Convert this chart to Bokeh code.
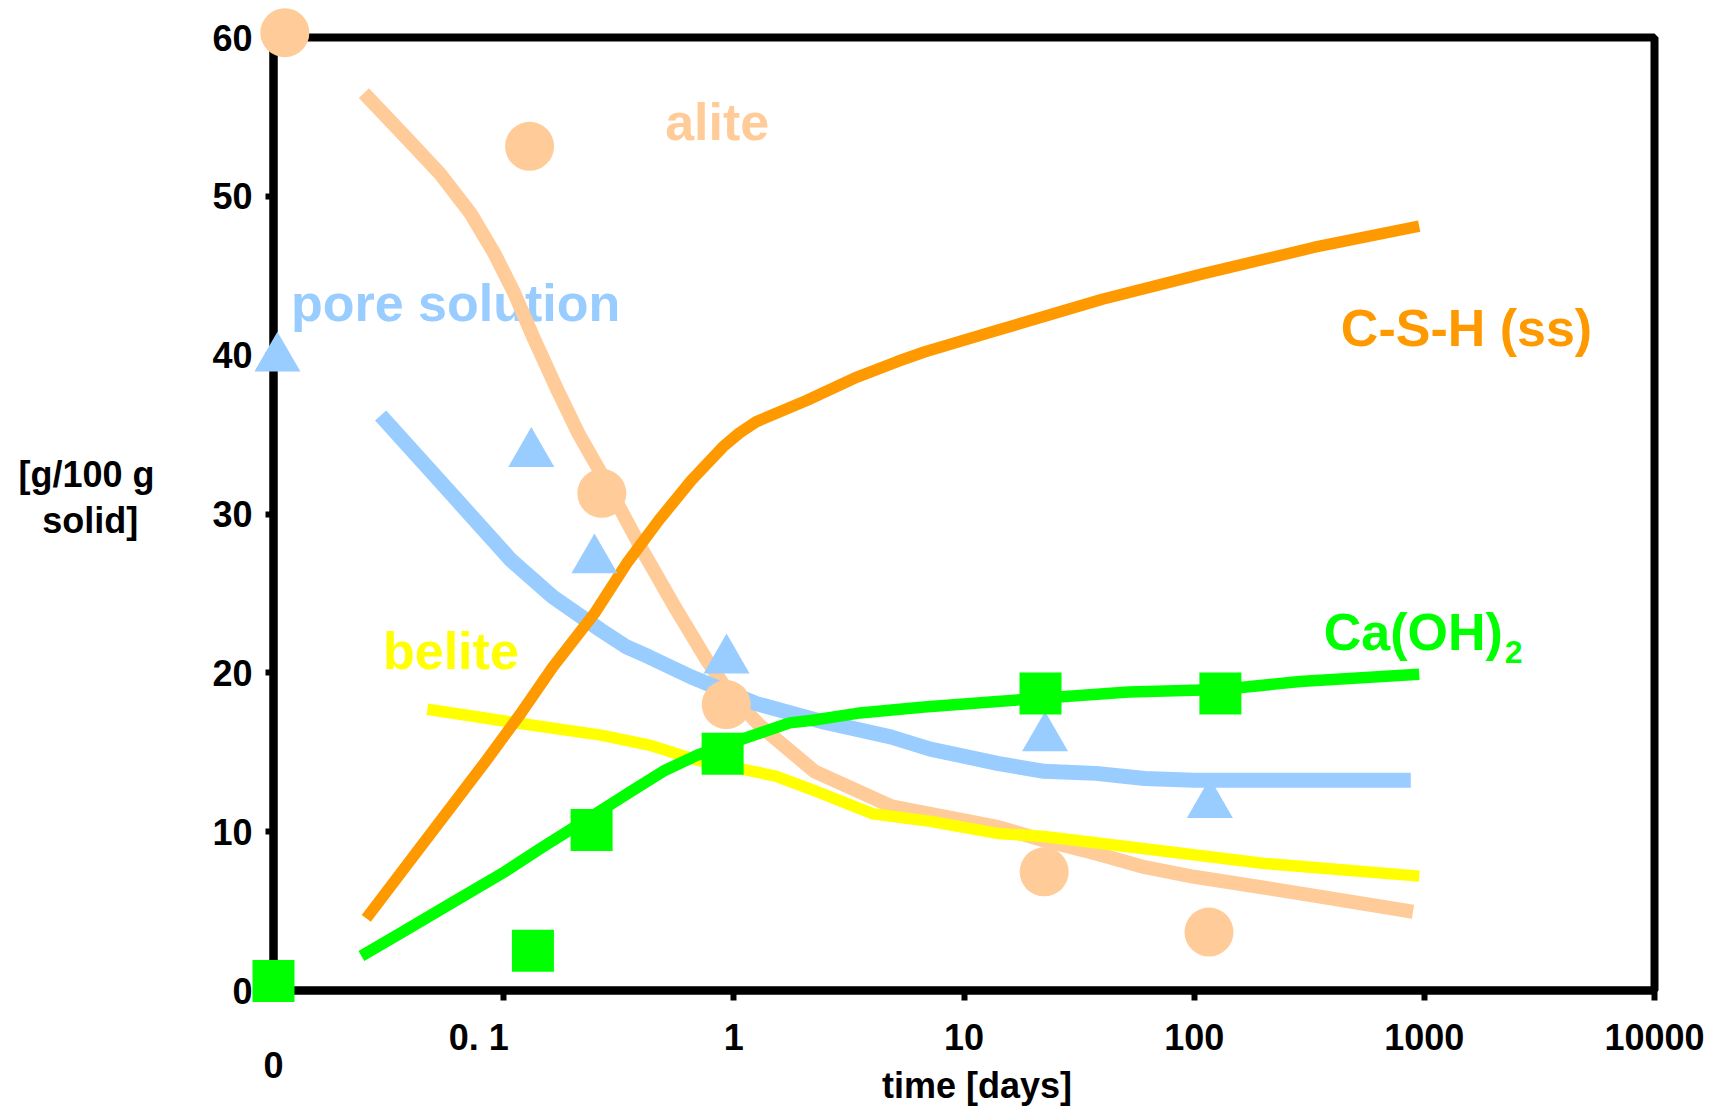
from bokeh.plotting import figure
from bokeh.models import Range1d, FixedTicker, ColumnDataSource
from bokeh.core.properties import value
from bokeh.embed import file_html
from bokeh.resources import INLINE

FONT = "Liberation Sans"

# ---------------- data (time in days, amount in g/100 g solid) ----------------
# measured points
alite_t = [0.0112, 0.1296, 0.267, 0.927, 22.3, 116]
alite_v = [60.3, 53.15, 31.3, 18.0, 7.47, 3.68]
pore_t = [0.0104, 0.1318, 0.248, 0.93, 22.5, 117]
pore_v = [39.8, 33.8, 27.1, 20.8, 15.9, 11.7]
ch_t = [0.01, 0.134, 0.241, 0.894, 21.5, 130]
ch_v = [0.6, 2.5, 10.1, 14.9, 18.7, 18.7]

# modelled curves
alite_fit_t = [0.0247, 0.0377, 0.053, 0.072, 0.0912, 0.1112, 0.1348, 0.1687, 0.2114, 0.269,
               0.401, 0.554, 0.763, 0.956, 1.30, 2.24, 4.85, 14.0, 22.3, 37.4,
               61, 100, 288, 893]
alite_fit_v = [56.5, 53.7, 51.4, 48.9, 46.4, 43.9, 41.1, 38.0, 35.06, 32.4,
               27.7, 24.15, 20.8, 18.7, 16.67, 13.8, 11.6, 10.3, 9.44, 8.63,
               7.76, 7.16, 6.12, 4.96]
pore_fit_t = [0.0292, 0.0628, 0.1077, 0.1635, 0.2646, 0.342, 0.4287, 0.6536, 1.249, 2.45,
              4.8, 7.14, 13.97, 22.3, 37.4, 61, 100, 873]
pore_fit_v = [36.2, 30.86, 27.09, 24.78, 22.68, 21.63, 21.0, 19.74, 18.07, 16.91,
              15.97, 15.2, 14.3, 13.8, 13.67, 13.35, 13.24, 13.24]
belite_fit_t = [0.0466, 0.1186, 0.2646, 0.4287, 0.694, 1.52, 2.24, 4.0, 7.14, 13.97,
                22.3, 51.9, 202, 951]
belite_fit_v = [17.71, 16.81, 16.08, 15.45, 14.5, 13.5, 12.58, 11.13, 10.65, 9.89,
                9.7, 9.05, 8.0, 7.2]
ch_fit_t = [0.0241, 0.0365, 0.0607, 0.101, 0.1484, 0.2403, 0.365, 0.503, 0.694, 0.894,
            1.748, 2.24, 3.43, 6.72, 13.97, 21.6, 51.9, 130.7, 288, 950]
ch_fit_v = [2.17, 3.7, 5.59, 7.47, 9.05, 10.94, 12.62, 13.87, 14.82, 15.4,
            16.85, 17.03, 17.45, 17.85, 18.2, 18.4, 18.8, 18.95, 19.45, 19.91]
csh_fit_t = [0.0253, 0.0365, 0.0548, 0.0823, 0.1186, 0.1635, 0.2478, 0.342, 0.4717, 0.6536,
             0.896, 1.057, 1.249, 2.07, 3.43, 5.13, 6.72, 14.2, 39.9, 111, 330, 950]
csh_fit_v = [4.54, 7.58, 10.94, 14.3, 17.44, 20.37, 23.73, 26.88, 29.6, 32.12,
             34.22, 35.1, 35.8, 37.15, 38.62, 39.6, 40.2, 41.6, 43.52, 45.15, 46.78, 48.13]

# axis ticks
x_ticks = [0.01, 0.1, 1, 10, 100, 1000, 10000]
x_tick_labels = ["0", "0. 1", "1", "10", "100", "1000", "10000"]
y_ticks = [0, 10, 20, 30, 40, 50, 60]

# series labels
series_names = ["alite", "pore solution", "C-S-H (ss)", "Ca(OH)", "belite"]
series_label_t = [0.503, 0.0119, 433.7, 365.5, 0.0299]
series_label_v = [54.67, 43.29, 41.72, 22.6, 21.37]

PEACH = "#FFCC99"
BLUE = "#99CCFF"
ORANGE = "#FF9900"
GREEN = "#00FF00"
YELLOW = "#FFFF00"
series_colors = [PEACH, BLUE, ORANGE, GREEN, YELLOW]

# ---------------- figure ----------------
p = figure(width=1725, height=1110, x_axis_type="log",
           x_range=Range1d(0.01, 10000), y_range=Range1d(0, 60),
           output_backend="svg", toolbar_location=None,
           min_border_left=273, min_border_right=71,
           min_border_top=37, min_border_bottom=120)
p.background_fill_color = "white"
p.border_fill_color = "white"
p.xgrid.visible = False
p.ygrid.visible = False
p.outline_line_color = "black"
p.outline_line_width = 8
p.outline_line_alpha = 1.0

# axes
xa = p.xaxis[0]
xa.ticker = FixedTicker(ticks=x_ticks, minor_ticks=[])
xa.major_label_overrides = {t: (lab if t >= 1 else "") for t, lab in zip(x_ticks, x_tick_labels)}
ya = p.yaxis[0]
ya.ticker = FixedTicker(ticks=y_ticks, minor_ticks=[])
for ax, tout, stand in ((xa, 10, 23), (ya, 8, 13)):
    ax.axis_line_color = "black"
    ax.axis_line_width = 8
    ax.major_tick_line_color = "black"
    ax.major_tick_line_width = 6
    ax.major_tick_in = 0
    ax.major_tick_out = tout
    ax.minor_tick_line_color = None
    ax.major_label_text_font = FONT
    ax.major_label_text_font_style = "bold"
    ax.major_label_text_font_size = "36px"
    ax.major_label_text_color = "black"
    ax.major_label_standoff = stand

# texts outside the frame (overlay level so they are not clipped)
outer_texts = ["0", "0. 1", "time [days]", "[g/100 g", "solid]"]
outer_t = [x_ticks[0], 0.078, 11.39, 0.00154, 0.0016]
outer_v = [-4.69, -2.95, -6.01, 32.49, 29.6]
p.text(x=outer_t, y=outer_v, text=outer_texts, text_color="black",
       text_font=value(FONT), text_font_style="bold", text_font_size="36px",
       text_align="center", text_baseline="middle", level="overlay")

# series labels (under curves)
lab_src = ColumnDataSource(dict(x=series_label_t, y=series_label_v, text=series_names,
                                color=series_colors))
p.text(x="x", y="y", text="text", source=lab_src, text_color="color",
       text_font=value(FONT), text_font_style="bold", text_font_size="52px",
       text_align="left", text_baseline="middle")
p.text(x=[series_label_t[3]], y=[series_label_v[3]], text=["2"], x_offset=181, y_offset=20,
       text_color=GREEN, text_font=value(FONT), text_font_style="bold",
       text_font_size="32px", text_align="left", text_baseline="middle")

# curves
p.line(alite_fit_t, alite_fit_v, line_color=PEACH, line_width=14, line_join="round")
p.line(pore_fit_t, pore_fit_v, line_color=BLUE, line_width=15, line_join="round")
p.line(belite_fit_t, belite_fit_v, line_color=YELLOW, line_width=11.5, line_join="round")
p.line(ch_fit_t, ch_fit_v, line_color=GREEN, line_width=11.5, line_join="round")
p.line(csh_fit_t, csh_fit_v, line_color=ORANGE, line_width=11.5, line_join="round")

# measured points (drawn above the frame)
p.scatter(alite_t, alite_v, marker="circle", size=49, fill_color=PEACH, line_color=None,
          level="overlay")
p.scatter(pore_t, pore_v, marker="triangle", size=46, fill_color=BLUE, line_color=None,
          level="overlay")
p.scatter(ch_t, ch_v, marker="square", size=42, fill_color=GREEN, line_color=None,
          level="overlay")

open("out.html", "w").write(file_html(p, INLINE))
